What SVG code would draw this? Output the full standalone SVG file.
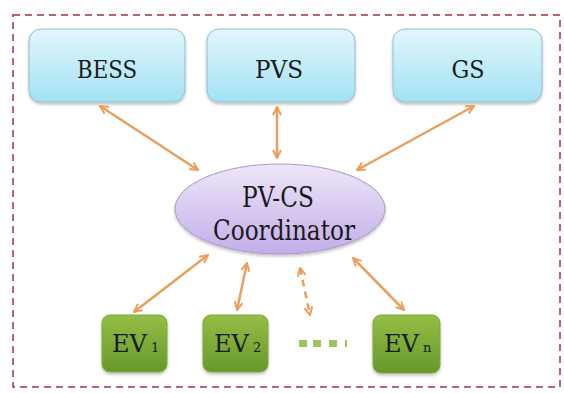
<svg xmlns="http://www.w3.org/2000/svg" width="564" height="393" viewBox="0 0 564 393">
<defs>
<linearGradient id="gb" x1="0" y1="0" x2="0" y2="1"><stop offset="0" stop-color="#e2f7fc"/><stop offset="1" stop-color="#a2e1f3"/></linearGradient>
<linearGradient id="gp" x1="0" y1="0" x2="0" y2="1"><stop offset="0" stop-color="#eee6f8"/><stop offset="1" stop-color="#c2aeea"/></linearGradient>
<linearGradient id="gg" x1="0" y1="0" x2="0" y2="1"><stop offset="0" stop-color="#94be46"/><stop offset="1" stop-color="#66982a"/></linearGradient>
<filter id="sh" x="-10%" y="-10%" width="120%" height="130%"><feDropShadow dx="0" dy="2" stdDeviation="1.5" flood-color="#000" flood-opacity="0.25"/></filter>
<marker id="ah" viewBox="0 0 10 10" refX="9" refY="5" markerWidth="4" markerHeight="4" orient="auto-start-reverse"><path d="M1,1 L9,5 L1,9" fill="none" stroke="#eaa05c" stroke-width="2"/></marker>
<style>
.blue{fill:url(#gb);stroke:#8fbfcf;stroke-width:1;filter:url(#sh)}
.green{fill:url(#gg);stroke:#7ea83a;stroke-width:1;filter:url(#sh)}
.t{font-family:'DejaVu Serif','Liberation Serif',serif;fill:#1a1a1a;text-anchor:middle}
.s{font-family:'DejaVu Serif','Liberation Serif',serif;fill:#1a1a1a;text-anchor:start}
.sub{font-family:'DejaVu Serif','Liberation Serif',serif;fill:#1a1a1a;text-anchor:start;font-size:13px}
.c{stroke:#eaa05c;stroke-width:2.5;fill:none;marker-start:url(#ah);marker-end:url(#ah)}
</style>
</defs>
<rect width="564" height="393" fill="#ffffff"/>
<rect x="13" y="15" width="547" height="372" fill="none" stroke="#a5343c" stroke-width="1.5" stroke-dasharray="7,5"/>
<g id="BESS"><rect class="blue" x="29" y="29" width="156" height="73" rx="12"/><text class="t" x="107" y="78" font-size="25" textLength="60" lengthAdjust="spacingAndGlyphs">BESS</text></g>
<g id="PVS"><rect class="blue" x="207" y="29" width="148" height="73" rx="12"/><text class="t" x="279" y="78" font-size="25" textLength="48" lengthAdjust="spacingAndGlyphs">PVS</text></g>
<g id="GS"><rect class="blue" x="393" y="29" width="149" height="73" rx="12"/><text class="t" x="468" y="78" font-size="25" textLength="33" lengthAdjust="spacingAndGlyphs">GS</text></g>
<g id="coordinator"><ellipse cx="280" cy="209" rx="105" ry="45" fill="url(#gp)" stroke="#a898cc" stroke-width="1" filter="url(#sh)"/><text class="t" x="278" y="207" font-size="27" textLength="72" lengthAdjust="spacingAndGlyphs">PV-CS</text><text class="t" x="284" y="240" font-size="27" textLength="142" lengthAdjust="spacingAndGlyphs">Coordinator</text></g>
<g id="EV1"><rect class="green" x="102" y="315" width="65" height="57" rx="8"/><text class="s" x="112" y="352" font-size="25" textLength="35" lengthAdjust="spacingAndGlyphs">EV</text><text class="sub" x="151" y="352">1</text></g>
<g id="EV2"><rect class="green" x="203" y="315" width="65" height="57" rx="8"/><text class="s" x="214" y="352" font-size="25" textLength="35" lengthAdjust="spacingAndGlyphs">EV</text><text class="sub" x="253" y="352">2</text></g>
<g id="EVn"><rect class="green" x="373" y="315" width="67" height="58" rx="8"/><text class="s" x="384" y="352" font-size="25" textLength="35" lengthAdjust="spacingAndGlyphs">EV</text><text class="sub" x="423" y="352">n</text></g>
<g id="dots" fill="#9cc45c"><rect x="299" y="340" width="8" height="7"/><rect x="313" y="340" width="8" height="7"/><rect x="329" y="340" width="8" height="7"/><rect x="345" y="340" width="2" height="7"/></g>
<g id="connectors">
<line class="c" x1="100" y1="106" x2="198" y2="170"/>
<line class="c" x1="277" y1="107" x2="277" y2="158"/>
<line class="c" x1="474" y1="106" x2="357" y2="170"/>
<line class="c" x1="134" y1="312" x2="208" y2="255"/>
<line class="c" x1="237" y1="310" x2="247" y2="263"/>
<line class="c" x1="300" y1="268" x2="310" y2="315" stroke-dasharray="7,5"/>
<line class="c" x1="404" y1="310" x2="353" y2="258"/>
</g>
</svg>
